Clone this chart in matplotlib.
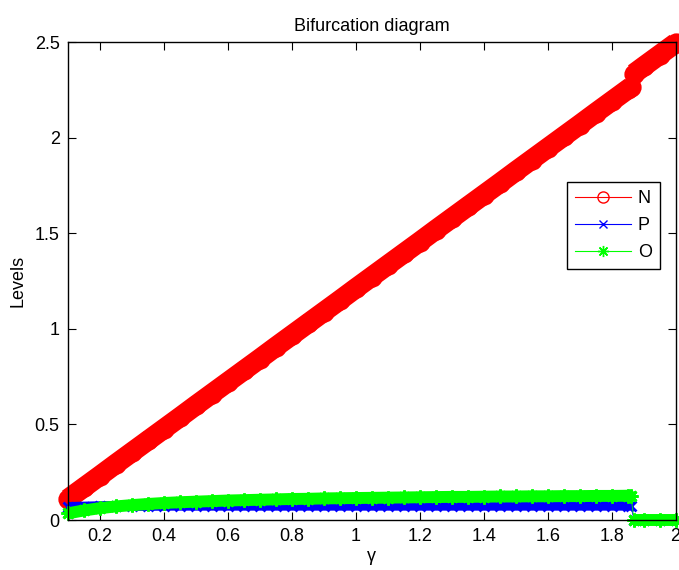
import numpy as np
import matplotlib
matplotlib.use("Agg")
import matplotlib.pyplot as plt
from matplotlib.lines import Line2D

plt.rcParams['font.family'] = ['Liberation Sans', 'DejaVu Sans']

# gamma values (lower branch, then upper branch after the jump)
gamma_low = [0.10, 0.15, 0.20, 0.25, 0.30, 0.35, 0.40, 0.45, 0.50, 0.55,
             0.60, 0.65, 0.70, 0.75, 0.80, 0.85, 0.90, 0.95, 1.00, 1.05,
             1.10, 1.15, 1.20, 1.25, 1.30, 1.35, 1.40, 1.45, 1.50, 1.55,
             1.60, 1.65, 1.70, 1.75, 1.80, 1.85, 1.86]
gamma_high = [1.87, 1.90, 1.95, 2.00]

N_low = [0.110, 0.171, 0.232, 0.294, 0.355, 0.416, 0.477, 0.538, 0.600, 0.661,
         0.722, 0.783, 0.844, 0.906, 0.967, 1.028, 1.089, 1.150, 1.212, 1.273,
         1.334, 1.395, 1.456, 1.518, 1.579, 1.640, 1.701, 1.762, 1.824, 1.885,
         1.946, 2.007, 2.068, 2.130, 2.191, 2.252, 2.264]
N_high = [2.335, 2.372, 2.433, 2.494]

P_low = [0.068, 0.070, 0.072, 0.073, 0.074, 0.074, 0.075, 0.075, 0.075, 0.075,
         0.075, 0.075, 0.075, 0.075, 0.075, 0.075, 0.075, 0.075, 0.075, 0.075,
         0.075, 0.075, 0.075, 0.075, 0.075, 0.075, 0.075, 0.075, 0.075, 0.075,
         0.075, 0.075, 0.075, 0.075, 0.075, 0.075, 0.075]
P_high = [0.0, 0.0, 0.0, 0.0]

O_low = [0.035, 0.050, 0.062, 0.071, 0.078, 0.084, 0.089, 0.093, 0.096, 0.099,
         0.102, 0.104, 0.106, 0.108, 0.110, 0.111, 0.113, 0.114, 0.115, 0.116,
         0.117, 0.118, 0.119, 0.120, 0.121, 0.121, 0.122, 0.123, 0.123, 0.124,
         0.124, 0.125, 0.125, 0.126, 0.126, 0.127, 0.127]
O_high = [0.0, 0.0, 0.0, 0.0]

xticks = [0.2, 0.4, 0.6, 0.8, 1.0, 1.2, 1.4, 1.6, 1.8, 2.0]
xticklabels = ['0.2', '0.4', '0.6', '0.8', '1', '1.2', '1.4', '1.6', '1.8', '2']
yticks = [0, 0.5, 1, 1.5, 2, 2.5]
yticklabels = ['0', '0.5', '1', '1.5', '2', '2.5']

fig = plt.figure(figsize=(6.79, 5.70), dpi=100)
ax = fig.add_axes([0.1001, 0.0877, 0.8949, 0.8386])

asterisk = (8, 2, 0)
series = [
    ('N', N_low, N_high, '#ff0000', 'o', 12.6, 14.6, 2.0),
    ('P', P_low, P_high, '#0000ff', 'x', 7.5, 7.2, 2.0),
    ('O', O_low, O_high, '#00ff00', asterisk, 10.0, 8.6, 2.0),
]
g_all = gamma_low + gamma_high
for name, lo, hi, col, mk, ms, lw, mew in series:
    # thick band per branch (dense markers in the original)
    for g, v in ((gamma_low, lo), (gamma_high, hi)):
        ax.plot(g, v, '-', color=col, lw=lw, solid_capstyle='butt', clip_on=False)
    # full series with thin line and markers
    ax.plot(g_all, lo + hi, '-', color=col, lw=0.6, marker=mk, ms=ms,
            mfc=col, mec=col, mew=mew, clip_on=False)

ax.set_xlim(0.1, 2.0)
ax.set_ylim(0, 2.5)
ax.set_xticks(xticks)
ax.set_xticklabels(xticklabels)
ax.set_yticks(yticks)
ax.set_yticklabels(yticklabels)
ax.tick_params(direction='in', length=6, width=0.8, top=True, right=True,
               labelsize=13, pad=6)
for s in ax.spines.values():
    s.set_linewidth(1.0)

ax.set_title('Bifurcation diagram', fontsize=13, pad=8)
ax.set_xlabel('γ', fontsize=13, labelpad=2)
ax.set_ylabel('Levels', fontsize=13, labelpad=6)

handles = [
    Line2D([], [], color='#ff0000', lw=0.8, marker='o', ms=8, mfc='none', mec='#ff0000'),
    Line2D([], [], color='#0000ff', lw=0.8, marker='x', ms=6, mec='#0000ff'),
    Line2D([], [], color='#00ff00', lw=0.8, marker=asterisk, ms=8, mec='#00ff00'),
]
leg = ax.legend(handles, ['N', 'P', 'O'], loc='upper right',
                bbox_to_anchor=(0.974, 0.707), borderaxespad=0,
                fancybox=False, framealpha=1, edgecolor='black',
                fontsize=13, handlelength=3.1, handletextpad=0.35,
                labelspacing=0.55, borderpad=0.45)
leg.get_frame().set_linewidth(1.0)

fig.savefig('out.png', dpi=100)
